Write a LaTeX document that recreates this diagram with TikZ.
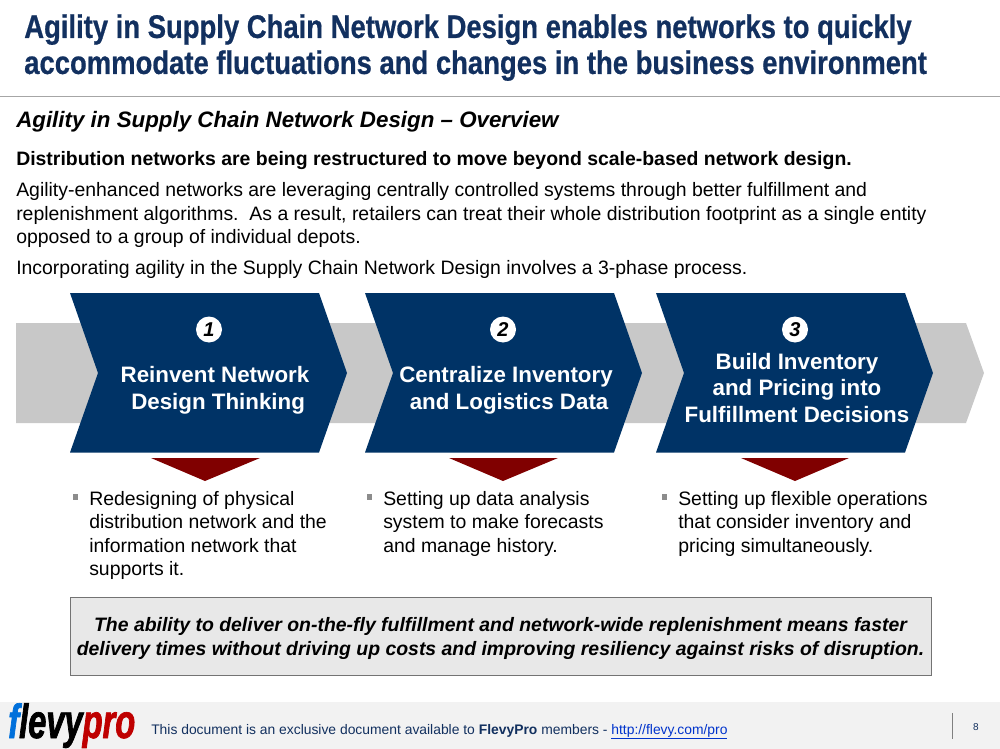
\documentclass[tikz,border=0pt]{standalone}
\usepackage{fontspec}
\usepackage{tikz}
\usetikzlibrary{positioning}
\setmainfont{Liberation Sans}
\newfontfamily\narrowfont[FakeStretch=0.84,FakeBold=0.6]{Liberation Sans}
\newfontfamily\logofont[FakeStretch=0.68,FakeBold=1.5]{Liberation Sans}
\definecolor{navy}{HTML}{003366}
\definecolor{titleblue}{HTML}{12305F}
\definecolor{band}{HTML}{C8C8C8}
\definecolor{wine}{HTML}{800000}
\definecolor{foot}{HTML}{F2F2F2}
\definecolor{boxfill}{HTML}{E8E8E8}
\definecolor{linkblue}{HTML}{0033CC}
\tikzset{
  chevron/.style={fill=navy,draw=none},
  wedge/.style={fill=wine,draw=none},
  numdot/.style={circle,fill=white,minimum size=19.5pt,inner sep=0,font=\fontsize{15}{15}\selectfont\bfseries\itshape},
  phase/.style={align=center,text=white,font=\fontsize{16.75}{20}\selectfont\bfseries},
  body/.style={align=left,inner sep=0,anchor=north west,font=\fontsize{14.57}{17.55}\selectfont},
  bulletmark/.style={fill=gray!90,minimum size=4pt,inner sep=0}}

\begin{document}
\begin{tikzpicture}[x=0.75pt,y=-0.75pt]
	\useasboundingbox (0,0) rectangle (1000,749);
	% title
	\node [anchor=north west,inner sep=0,align=left,text=titleblue,font=\fontsize{24.5}{27}\selectfont\narrowfont\bfseries] (title) at (24,14) {Agility in Supply Chain Network Design enables networks to quickly\\accommodate fluctuations and changes in the business environment};
	\draw [gray!70,line width=0.75pt] (0,96.5) -- (1000,96.5);
	% overview text
	\node [anchor=north west,inner sep=0,font=\fontsize{16.75}{18}\selectfont\bfseries\itshape] (head) at (16,111) {Agility in Supply Chain Network Design -- Overview};
	\node [anchor=north west,inner sep=0,font=\fontsize{14.57}{17}\selectfont\bfseries] (lead) at (16,151) {Distribution networks are being restructured to move beyond scale-based network design.};
	\node [body] (para) at (16,182.5) {Agility-enhanced networks are leveraging centrally controlled systems through better fulfillment and\\replenishment algorithms.\ \ As a result, retailers can treat their whole distribution footprint as a single entity\\opposed to a group of individual depots.};
	\node [body] (intro) at (16,260) {Incorporating agility in the Supply Chain Network Design involves a 3-phase process.};
	% band and chevrons
	\fill [band] (16,323) -- (966,323) -- (984,373) -- (966,423) -- (16,423) -- cycle;
	\foreach \x/\n in {70/1,365/2,656/3}{
		\draw [chevron] (\x,293) -- ++(249,0) -- ++(28,80) -- ++(-28,79.5) -- ++(-249,0) -- ++(28,-79.5) -- cycle;
	}
	\draw [wedge] (151,458) -- (260,458) -- (205,481) -- cycle;
	\draw [wedge] (449,458) -- (558,458) -- (503,481) -- cycle;
	\draw [wedge] (741,458) -- (849,458) -- (795,481) -- cycle;
	\node [numdot] (dot1) at (209,329.5) {1};
	\node [numdot] (dot2) at (503,329.5) {2};
	\node [numdot] (dot3) at (795,329.5) {3};
	\node [phase] (phase1) at (215,390) {Reinvent Network\\\ Design Thinking};
	\node [phase] (phase2) at (506,390) {Centralize Inventory\\\ and Logistics Data};
	\node [phase] (phase3) at (797,388) {Build Inventory\\and Pricing into\\Fulfillment Decisions};
	% bullets
	\node [bulletmark] (mark1) at (75.5,497) {};
	\node [bulletmark] (mark2) at (369.5,497) {};
	\node [bulletmark] (mark3) at (664.5,497) {};
	\node [body] (text1) at (89,491) {Redesigning of physical\\distribution network and the\\information network that\\supports it.};
	\node [body] (text2) at (383,491) {Setting up data analysis\\system to make forecasts\\and manage history.};
	\node [body] (text3) at (678,491) {Setting up flexible operations\\that consider inventory and\\pricing simultaneously.};
	% callout
	\filldraw [draw=gray!90!black,fill=boxfill,line width=0.75pt] (70.5,597) rectangle (931,675);
	\node [inner sep=0,align=center,font=\fontsize{14.57}{18}\selectfont\bfseries\itshape] (callout) at (500.5,638) {The ability to deliver on-the-fly fulfillment and network-wide replenishment means faster\\delivery times without driving up costs and improving resiliency against risks of disruption.};
	% footer
	\fill [foot] (0,702) rectangle (1000,749);
	\node [anchor=base west,inner sep=0,font=\fontsize{36}{36}\selectfont\logofont\bfseries\itshape] (logo) at (8,738) {\textcolor{linkblue!70!cyan}{f}\textcolor{black}{levy}\textcolor{red!75!black}{pro}};
	\node [anchor=base west,inner sep=0,text=titleblue,font=\fontsize{10.4}{12}\selectfont] (note) at (151,734) {This document is an exclusive document available to \textbf{FlevyPro} members - \textcolor{linkblue}{\underline{http://flevy.com/pro}}};
	\draw [gray,line width=0.75pt] (952,713) -- (952,739);
	\node [inner sep=0,text=titleblue,font=\fontsize{7.5}{9}\selectfont] (page) at (976,727) {8};
\end{tikzpicture}
\end{document}
